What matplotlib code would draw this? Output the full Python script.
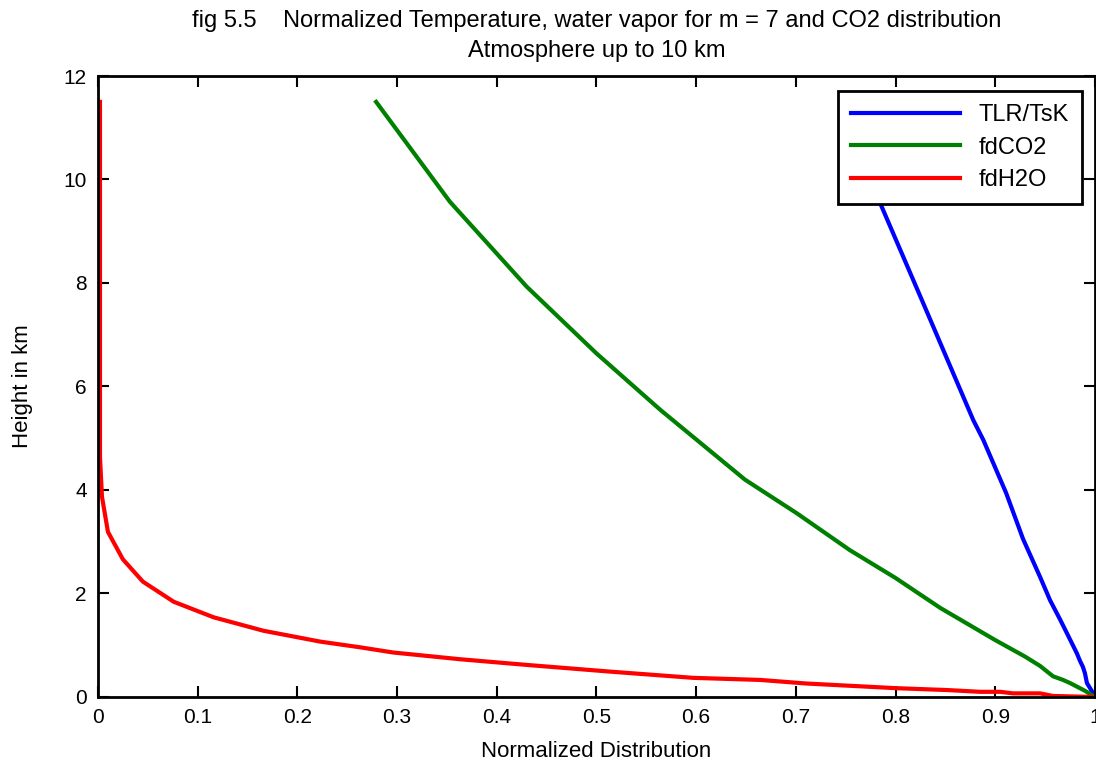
import matplotlib
matplotlib.use("Agg")
import matplotlib.pyplot as plt
import numpy as np

plt.rcParams['font.family'] = ['Liberation Sans Narrow', 'Liberation Sans', 'DejaVu Sans']

# normalized temperature profile T(h)/Ts
tlr_x = [0.746, 0.784, 0.828, 0.878, 0.888, 0.911, 0.928, 0.945, 0.955,
         0.965, 0.972, 0.982, 0.985, 0.988, 0.990, 0.992, 0.998, 1.000]
tlr_h = [11.5, 9.57, 7.60, 5.35, 4.97, 3.94, 3.05, 2.32, 1.87,
         1.50, 1.23, 0.84, 0.70, 0.58, 0.46, 0.27, 0.08, 0.0]

# normalized CO2 distribution
co2_x = [0.279, 0.353, 0.430, 0.500, 0.564, 0.649, 0.701, 0.754, 0.800,
         0.845, 0.900, 0.930, 0.945, 0.958, 0.968, 0.975, 0.990, 1.000]
co2_h = [11.5, 9.57, 7.93, 6.64, 5.55, 4.20, 3.55, 2.84, 2.30,
         1.72, 1.10, 0.78, 0.60, 0.40, 0.33, 0.27, 0.12, 0.0]

# normalized water vapour distribution, m = 7
h2o_x = [0.002, 0.002, 0.002, 0.004, 0.010, 0.025, 0.045, 0.076, 0.116,
         0.166, 0.223, 0.263, 0.296, 0.363, 0.430, 0.514, 0.597, 0.664,
         0.711, 0.801, 0.851, 0.885, 0.905, 0.918, 0.945, 0.958, 1.000]
h2o_h = [11.5, 5.74, 4.64, 3.87, 3.19, 2.66, 2.23, 1.84, 1.54,
         1.28, 1.07, 0.96, 0.86, 0.73, 0.62, 0.49, 0.37, 0.33,
         0.26, 0.17, 0.135, 0.10, 0.10, 0.07, 0.07, 0.02, 0.0]

x_ticks = [0, 0.1, 0.2, 0.3, 0.4, 0.5, 0.6, 0.7, 0.8, 0.9, 1]
x_labels = ['0', '0.1', '0.2', '0.3', '0.4', '0.5', '0.6', '0.7', '0.8', '0.9', '1']
y_ticks = [0, 2, 4, 6, 8, 10, 12]

fig = plt.figure(figsize=(10.96, 7.6), dpi=100)
ax = fig.add_axes([0.0894, 0.0829, 0.9096, 0.8171])

ax.plot(tlr_x, tlr_h, color='#0000ff', lw=3, label='TLR/TsK')
ax.plot(co2_x, co2_h, color='#008000', lw=3, label='fdCO2')
ax.plot(h2o_x, h2o_h, color='#ff0000', lw=3, label='fdH2O')

ax.set_xlim(0, 1)
ax.set_ylim(0, 12)
ax.set_xticks(x_ticks)
ax.set_xticklabels(x_labels)
ax.set_yticks(y_ticks)
ax.tick_params(direction='in', length=8, width=1.5, top=True, right=True,
               labelsize=15, pad=8)
for sp in ax.spines.values():
    sp.set_linewidth(2)

ax.set_xlabel('Normalized Distribution', fontsize=16, labelpad=10)
ax.set_ylabel('Height in km', fontsize=16, labelpad=22)
ax.set_title('fig 5.5    Normalized Temperature, water vapor for m = 7 and CO2 distribution\n'
             'Atmosphere up to 10 km', fontsize=17, pad=14, linespacing=1.45)

leg = ax.legend(loc='upper right', fontsize=17, handlelength=4.6, fancybox=False,
                edgecolor='black', framealpha=1, borderpad=0.55, borderaxespad=0,
                labelspacing=0.45, bbox_to_anchor=(0.987, 0.976))
leg.get_frame().set_linewidth(2)

fig.savefig('out.png', dpi=100)
